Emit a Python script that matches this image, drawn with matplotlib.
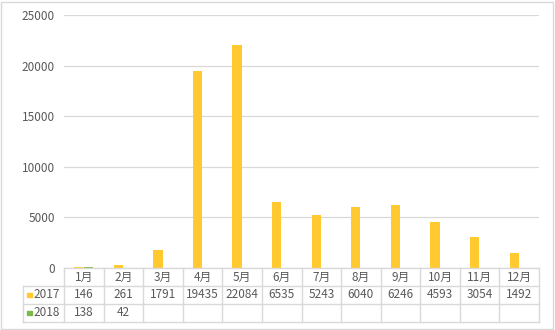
import matplotlib.pyplot as plt
import numpy as np
from matplotlib.patches import Rectangle

months = ["1月", "2月", "3月", "4月", "5月", "6月", "7月", "8月", "9月", "10月", "11月", "12月"]
series_names = ["2017", "2018"]
vals_2017 = [146, 261, 1791, 19435, 22084, 6535, 5243, 6040, 6246, 4593, 3054, 1492]
vals_2018 = [138, 42, None, None, None, None, None, None, None, None, None, None]
colors = ["#FFC92F", "#7DBA4C"]
yticks = [0, 5000, 10000, 15000, 20000, 25000]

plt.rcParams['font.family'] = ['Noto Sans CJK SC', 'DejaVu Sans']
W, H = 555, 330
fs = 8.5
fig = plt.figure(figsize=(W / 100, H / 100), dpi=100)

# outer frame
fig.patches.append(Rectangle((1 / W, 1 / H), (W - 3) / W, (H - 3) / H, transform=fig.transFigure,
                             fill=False, edgecolor="#d9d9d9", linewidth=1))

px0, px1, py_top, py_base = 64, 539, 15, 268
ax = fig.add_axes([px0 / W, (H - py_base) / H, (px1 - px0) / W, (py_base - py_top) / H])
n = len(months)
x = np.arange(n)
bw = 0.235
v17 = np.array(vals_2017, dtype=float)
v18 = np.array([np.nan if v is None else v for v in vals_2018], dtype=float)
ax.bar(x - bw / 2 - 0.01, v17, bw, color=colors[0], zorder=3)
ax.bar(x + bw / 2 + 0.01, np.nan_to_num(v18), bw, color=colors[1], zorder=3)
ax.set_xlim(-0.5, n - 0.5)
ax.set_ylim(0, 25000)
ax.set_yticks(yticks)
ax.set_xticks([])
ax.yaxis.grid(True, color="#d9d9d9", linewidth=0.9)
ax.set_axisbelow(True)
for s in ax.spines.values():
    s.set_visible(False)
ax.tick_params(axis="y", length=0, pad=6.5, labelsize=fs, labelcolor="#595959")

# data table
cw = (px1 - px0) / n
leg_w = 41
tx_left = -0.5 - leg_w / cw
tax = fig.add_axes([(px0 - leg_w) / W, (H - 322) / H, (px1 - px0 + leg_w) / W, (322 - py_base) / H])
tax.set_xlim(tx_left, n - 0.5)
tax.set_ylim(3, 0)
tax.axis("off")
lc = "#d9d9d9"
tax.plot([-0.5, n - 0.5], [0, 0], color=lc, lw=1, clip_on=False)
for r in (1, 2, 3):
    tax.plot([tx_left, n - 0.5], [r, r], color=lc, lw=1, clip_on=False)
for i in range(n + 1):
    tax.plot([i - 0.5, i - 0.5], [0, 3], color=lc, lw=1, clip_on=False)
tax.plot([tx_left, tx_left], [1, 3], color=lc, lw=1, clip_on=False)

tc = "#595959"
for i, m in enumerate(months):
    tax.text(i, 0.5, m, ha="center", va="center", fontsize=fs, color=tc)
rows = [vals_2017, vals_2018]
for r, (name, vals, c) in enumerate(zip(series_names, rows, colors), start=1):
    tax.add_patch(Rectangle((tx_left + 0.1, r + 0.5 - 0.13), 0.13, 0.26, color=c, clip_on=False))
    tax.text(tx_left + 0.27, r + 0.5, name, ha="left", va="center", fontsize=fs, color=tc)
    for i, v in enumerate(vals):
        if v is not None:
            tax.text(i, r + 0.5, str(v), ha="center", va="center", fontsize=fs, color=tc)

fig.savefig("out.png", dpi=100)
